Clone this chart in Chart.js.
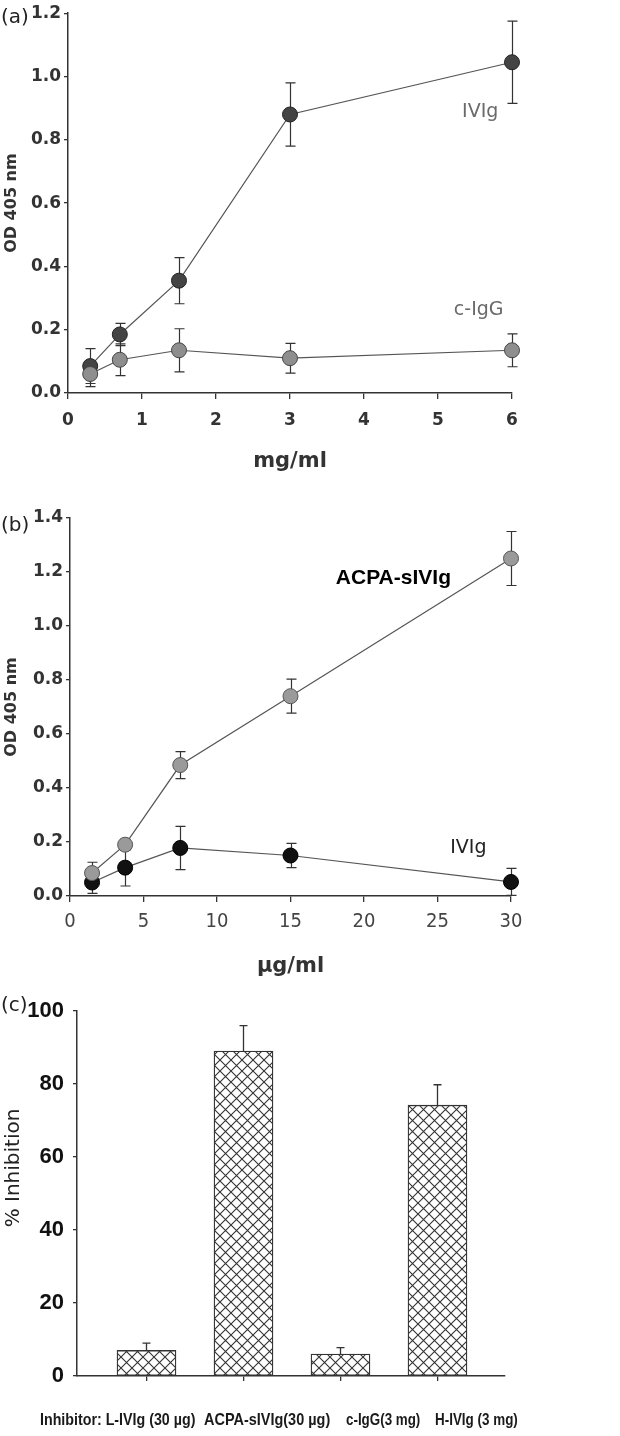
<!DOCTYPE html>
<html><head><meta charset="utf-8">
<script src="https://cdn.jsdelivr.net/npm/chart.js@4.4.1/dist/chart.umd.min.js"></script>
<style>
html,body{margin:0;padding:0;background:#fff;}
body{width:620px;height:1436px;position:relative;overflow:hidden;}
.box{position:absolute;left:0;width:620px;}
.lbl{position:absolute;font-family:"DejaVu Sans",sans-serif;font-size:20px;color:#222;line-height:1;white-space:nowrap;}
.rot{position:absolute;font-family:"DejaVu Sans",sans-serif;font-size:20px;color:#222;white-space:nowrap;transform-origin:center center;line-height:1;}
.cat{position:absolute;font-family:"Liberation Sans",Arial,sans-serif;font-weight:bold;font-size:17px;color:#1a1a1a;white-space:nowrap;line-height:1;top:1411px;transform-origin:left center;}
</style></head><body>
<div class="box" style="top:0;height:478px"><canvas id="ca"></canvas></div>
<div class="box" style="top:480px;height:503px"><canvas id="cb"></canvas></div>
<div class="box" style="top:983px;height:453px"><canvas id="cc"></canvas></div>
<div class="lbl" style="left:1px;top:6px">(a)</div>
<div class="lbl" style="left:1px;top:514px">(b)</div>
<div class="lbl" style="left:1px;top:994px">(c)</div>
<div id="inhTitle" class="rot"></div>
<div id="cats"></div>
<script>
// ---------- Panel (a) data ----------
const doseA = [0.3, 0.7, 1.5, 3, 6];               // mg/ml
const ivigA = [0.085, 0.185, 0.355, 0.88, 1.045];
const ivigAErr = [0.055, 0.035, 0.073, 0.1, 0.13];
const cIgGA = [0.06, 0.105, 0.135, 0.11, 0.135];
const cIgGAErr = [0.04, 0.05, 0.068, 0.047, 0.052];

// ---------- Panel (b) data ----------
const doseB = [1.5, 3.75, 7.5, 15, 30];            // µg/ml
const acpaB = [0.085, 0.19, 0.485, 0.74, 1.25];
const acpaBErr = [0.04, 0.02, 0.05, 0.063, 0.1];
const ivigB = [0.05, 0.105, 0.178, 0.15, 0.052];
const ivigBErr = [0.04, 0.068, 0.08, 0.045, 0.05];

// ---------- Panel (c) data ----------
const inhibitors = ['Inhibitor: L-IVIg (30 µg)', 'ACPA-sIVIg(30 µg)', 'c-IgG(3 mg)', 'H-IVIg (3 mg)'];
const inhibition = [7, 89, 6, 74.2];
const inhibitionErr = [2, 7, 1.8, 5.6];

const yTicksA = [0, 0.2, 0.4, 0.6, 0.8, 1.0, 1.2];
const yTicksB = [0, 0.2, 0.4, 0.6, 0.8, 1.0, 1.2, 1.4];
const yTicksC = [0, 20, 40, 60, 80, 100];

// ---------- plugins ----------
function drawErr(chart, opts){
  const ctx = chart.ctx, ys = chart.scales.y;
  ctx.save();
  ctx.strokeStyle = opts.color || '#333';
  ctx.lineWidth = opts.width || 1.2;
  (opts.sets || []).forEach(s => {
    const meta = chart.getDatasetMeta(s.dataset);
    const data = chart.data.datasets[s.dataset].data;
    meta.data.forEach((el, i) => {
      const v = typeof data[i] === 'object' ? data[i].y : data[i];
      const x = Math.round(el.x) + 0.5;
      const top = ys.getPixelForValue(v + s.err[i]);
      const bot = s.down ? ys.getPixelForValue(v - s.err[i]) : ys.getPixelForValue(v);
      const cap = opts.cap || 5;
      ctx.beginPath();
      ctx.moveTo(x, top); ctx.lineTo(x, bot);
      ctx.moveTo(x - cap, top); ctx.lineTo(x + cap, top);
      if (s.down) { ctx.moveTo(x - cap, bot); ctx.lineTo(x + cap, bot); }
      ctx.stroke();
    });
  });
  ctx.restore();
}
const errPlugin = {
  id: 'errbars',
  beforeDatasetsDraw(chart, args, opts){ if (opts && opts.phase === 'before') drawErr(chart, opts); },
  afterDatasetsDraw(chart, args, opts){ if (opts && opts.phase === 'after') drawErr(chart, opts); }
};
const notePlugin = {
  id: 'notes',
  afterDatasetsDraw(chart, args, opts){
    if (!opts || !opts.items) return;
    const ctx = chart.ctx, xs = chart.scales.x, ys = chart.scales.y;
    ctx.save();
    opts.items.forEach(it => {
      ctx.font = it.font;
      ctx.fillStyle = it.color;
      ctx.textAlign = 'center';
      ctx.textBaseline = 'middle';
      ctx.fillText(it.text, xs.getPixelForValue(it.x), ys.getPixelForValue(it.y));
    });
    ctx.restore();
  }
};
Chart.register(errPlugin, notePlugin);

const AXIS = '#333';
const boldDV = s => ({family: '"DejaVu Sans", sans-serif', weight: 'bold', size: s});
const narrow = '"DejaVu Sans Condensed", "Liberation Sans", sans-serif';

function lineDataset(xs, ys, fill, border){
  return {
    data: xs.map((x, i) => ({x, y: ys[i]})),
    showLine: true,
    clip: false,
    borderColor: '#555',
    borderWidth: 1.2,
    pointRadius: 7.5,
    pointBackgroundColor: fill,
    pointBorderColor: border,
    pointBorderWidth: 1
  };
}

function yScale(ticks, width){
  return {
    min: ticks[0], max: ticks[ticks.length - 1],
    afterBuildTicks: s => { s.ticks = ticks.map(v => ({value: v})); },
    ticks: {font: boldDV(17), color: AXIS, padding: 3, callback: v => v.toFixed(1)},
    grid: {drawOnChartArea: false, tickLength: 4, color: AXIS, lineWidth: 1.3},
    border: {color: AXIS, width: 1.5},
    title: {display: true, text: 'OD 405 nm', font: boldDV(16), color: AXIS, padding: {top: 2, bottom: 0}},
    afterFit: s => { s.width = width; }
  };
}

// ---------- Chart (a) ----------
new Chart(document.getElementById('ca'), {
  type: 'scatter',
  data: {datasets: [
    lineDataset(doseA, cIgGA, '#8e8e8e', '#444'),
    lineDataset(doseA, ivigA, '#444', '#222')
  ]},
  options: {
    responsive: true, maintainAspectRatio: false, animation: false, events: [],
    layout: {padding: {top: 12, right: 108, left: 0, bottom: 0}},
    plugins: {
      legend: {display: false}, tooltip: {enabled: false},
      errbars: {phase: 'before', cap: 5, color: '#333', width: 1.2,
        sets: [{dataset: 0, err: cIgGAErr, down: true}, {dataset: 1, err: ivigAErr, down: true}]},
      notes: {items: [
        {text: 'IVIg', x: 5.57, y: 0.887, font: '19px "DejaVu Sans", sans-serif', color: '#6a6a6a'},
        {text: 'c-IgG', x: 5.55, y: 0.262, font: '19px "DejaVu Sans", sans-serif', color: '#6a6a6a'}
      ]}
    },
    scales: {
      x: {type: 'linear', min: 0, max: 6,
        ticks: {stepSize: 1, font: boldDV(17), color: AXIS, padding: 11},
        grid: {drawOnChartArea: false, tickLength: 6, color: AXIS, lineWidth: 1.3},
        border: {color: AXIS, width: 1.5},
        title: {display: true, text: 'mg/ml', font: boldDV(21), color: AXIS, padding: {top: 4, bottom: 4}},
        afterFit: s => { s.height = 85; }
      },
      y: yScale(yTicksA, 68)
    }
  }
});

// ---------- Chart (b) ----------
new Chart(document.getElementById('cb'), {
  type: 'scatter',
  data: {datasets: [
    lineDataset(doseB, acpaB, '#9a9a9a', '#555'),
    lineDataset(doseB, ivigB, '#111', '#000')
  ]},
  options: {
    responsive: true, maintainAspectRatio: false, animation: false, events: [],
    layout: {padding: {top: 38, right: 109, left: 0, bottom: 0}},
    plugins: {
      legend: {display: false}, tooltip: {enabled: false},
      errbars: {phase: 'before', cap: 5, color: '#333', width: 1.2,
        sets: [{dataset: 0, err: acpaBErr, down: true}, {dataset: 1, err: ivigBErr, down: true}]},
      notes: {items: [
        {text: 'ACPA-sIVIg', x: 22, y: 1.178, font: 'bold 21px "Liberation Sans", Arial, sans-serif', color: '#000'},
        {text: 'IVIg', x: 27.1, y: 0.178, font: '19px "DejaVu Sans", sans-serif', color: '#222'}
      ]}
    },
    scales: {
      x: {type: 'linear', min: 0, max: 30,
        ticks: {stepSize: 5, font: {family: narrow, size: 20}, color: '#444', padding: 8},
        grid: {drawOnChartArea: false, tickLength: 6, color: AXIS, lineWidth: 1.3},
        border: {color: AXIS, width: 1.5},
        title: {display: true, text: 'µg/ml', font: boldDV(21), color: AXIS, padding: {top: 4, bottom: 4}},
        afterFit: s => { s.height = 87; }
      },
      y: yScale(yTicksB, 70)
    }
  }
});

// ---------- Chart (c) ----------
function hatch(){
  const n = 11, c = document.createElement('canvas');
  c.width = c.height = n;
  const g = c.getContext('2d');
  g.fillStyle = '#fff'; g.fillRect(0, 0, n, n);
  g.strokeStyle = '#333'; g.lineWidth = 1.1;
  g.beginPath();
  g.moveTo(-1, -1); g.lineTo(n + 1, n + 1);
  g.moveTo(n + 1, -1); g.lineTo(-1, n + 1);
  g.stroke();
  return g.createPattern(c, 'repeat');
}
new Chart(document.getElementById('cc'), {
  type: 'bar',
  data: {datasets: [{
    data: inhibitors.map((c, i) => ({x: i, y: inhibition[i]})),
    backgroundColor: hatch(),
    borderColor: '#333', borderWidth: 1.3, borderSkipped: false,
    barThickness: 59
  }]},
  options: {
    responsive: true, maintainAspectRatio: false, animation: false, events: [],
    layout: {padding: {top: 28, right: 115, left: 0, bottom: 0}},
    plugins: {
      legend: {display: false}, tooltip: {enabled: false},
      errbars: {phase: 'after', cap: 4, color: '#333', width: 1.3,
        sets: [{dataset: 0, err: inhibitionErr, down: false}]}
    },
    scales: {
      x: {type: 'linear', min: -0.7165, max: 3.696, offset: false,
        afterBuildTicks: s => { s.ticks = inhibitors.map((c, i) => ({value: i})); },
        ticks: {callback: () => '', padding: 0},
        grid: {drawOnChartArea: false, tickLength: 5, color: AXIS, lineWidth: 1.3, offset: false},
        border: {color: AXIS, width: 1.5},
        afterFit: s => { s.height = 60; }
      },
      y: {min: 0, max: 100,
        afterBuildTicks: s => { s.ticks = yTicksC.map(v => ({value: v})); },
        ticks: {font: {family: '"Liberation Sans", Arial, sans-serif', weight: 'bold', size: 22}, color: '#111', padding: 9},
        grid: {drawOnChartArea: false, tickLength: 4, color: AXIS, lineWidth: 1.3},
        border: {color: AXIS, width: 1.5},
        afterFit: s => { s.width = 77; }
      }
    }
  }
});

// y title of (c) and the inhibitor captions under the bars
const t = document.getElementById('inhTitle');
t.textContent = '% Inhibition';
const w = t.offsetWidth, h = t.offsetHeight;
t.style.left = (12 - w / 2) + 'px';
t.style.top = (1168 - h / 2) + 'px';
t.style.transform = 'rotate(-90deg)';

const catLeft = [40, 204, 346, 435];
const catWidth = [155, 126, 74, 83];
const cats = document.getElementById('cats');
inhibitors.forEach((txt, i) => {
  const d = document.createElement('div');
  d.className = 'cat';
  d.style.left = catLeft[i] + 'px';
  d.textContent = txt;
  cats.appendChild(d);
  const k = catWidth[i] / d.offsetWidth;
  d.style.transform = 'scaleX(' + k.toFixed(3) + ')';
});
</script>
</body></html>
